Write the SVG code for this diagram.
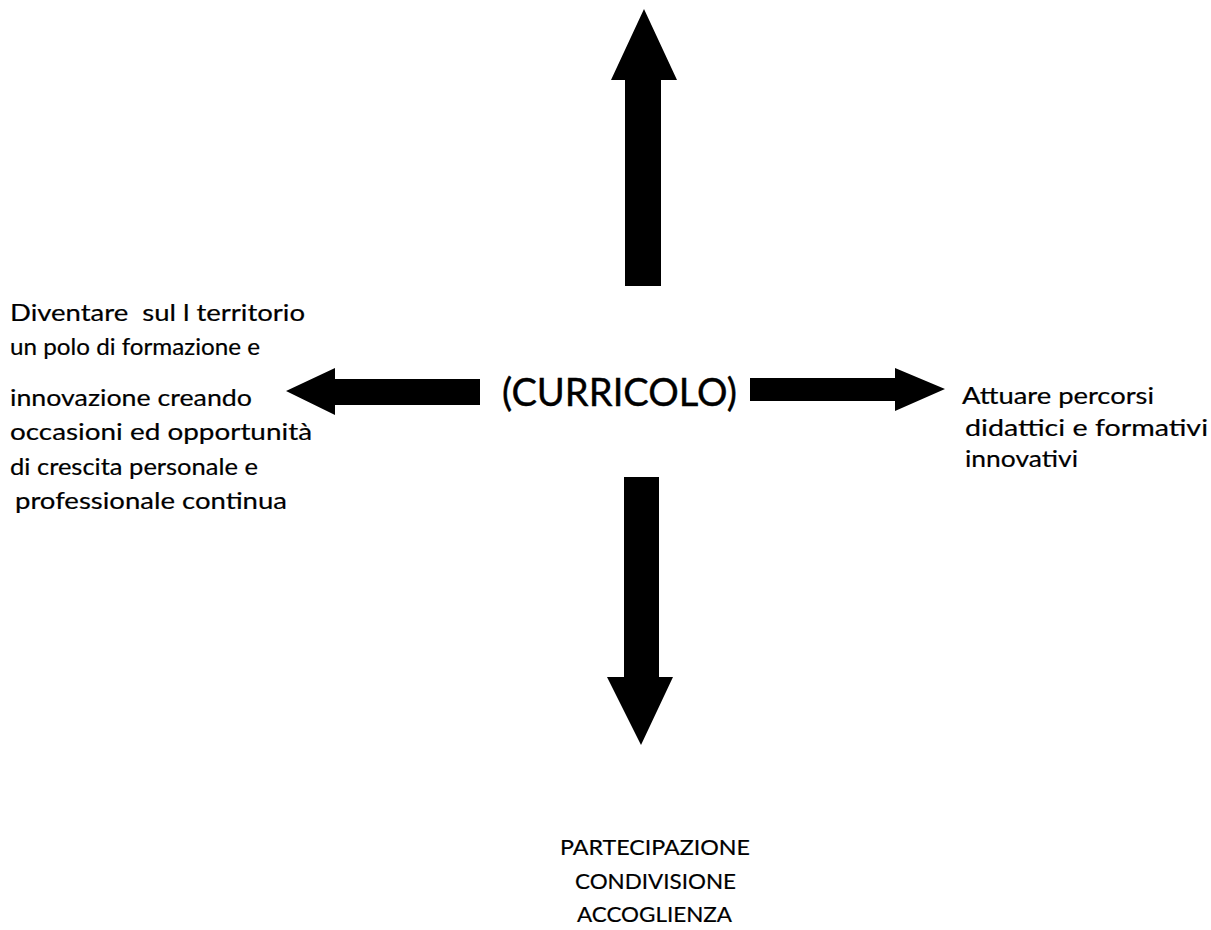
<svg xmlns="http://www.w3.org/2000/svg" width="1211" height="930" viewBox="0 0 1211 930">
<style>
.t{font-family:Lato,"Open Sans","Liberation Sans",sans-serif;fill:#000;stroke:#000;stroke-width:0.2;}
.s{font-size:23px;}
.c{font-size:38px;stroke-width:0.4;}
.b{font-size:22px;}
.arr{fill:#000;stroke:none;}
</style>
<rect width="1211" height="930" fill="#fff"/>
<g id="connectors">
<polygon class="arr" points="644,9 677,80 661,80 661,286 625,286 625,80 611,80"/>
<polygon class="arr" points="624,477 659,477 659,677 673,677 641,745 607,677 624,677"/>
<polygon class="arr" points="286,391 335,368 335,379 480,379 480,405 335,405 335,415"/>
<polygon class="arr" points="750,378 895,378 895,368 945,389 895,411 895,401 750,401"/>
</g>
<g id="center">
<text class="t c" x="502" y="406" textLength="235" lengthAdjust="spacingAndGlyphs">(CURRICOLO)</text>
</g>
<g id="left">
<text class="t s" x="10" y="321" textLength="295" lengthAdjust="spacingAndGlyphs" xml:space="preserve">Diventare  sul l territorio</text>
<text class="t s" x="10" y="355" textLength="250" lengthAdjust="spacingAndGlyphs">un polo di formazione e</text>
<text class="t s" x="10" y="406" textLength="242" lengthAdjust="spacingAndGlyphs">innovazione creando</text>
<text class="t s" x="10" y="440" textLength="302" lengthAdjust="spacingAndGlyphs">occasioni ed opportunità</text>
<text class="t s" x="10" y="475" textLength="248" lengthAdjust="spacingAndGlyphs">di crescita personale e</text>
<text class="t s" x="15" y="509" textLength="272" lengthAdjust="spacingAndGlyphs">professionale continua</text>
</g>
<g id="right">
<text class="t s" x="962" y="404" textLength="192" lengthAdjust="spacingAndGlyphs">Attuare percorsi</text>
<text class="t s" x="965" y="436" textLength="243" lengthAdjust="spacingAndGlyphs">didattici e formativi</text>
<text class="t s" x="965" y="467" textLength="113" lengthAdjust="spacingAndGlyphs">innovativi</text>
</g>
<g id="bottom">
<text class="t b" x="560" y="855" textLength="190" lengthAdjust="spacingAndGlyphs">PARTECIPAZIONE</text>
<text class="t b" x="575" y="889" textLength="161" lengthAdjust="spacingAndGlyphs">CONDIVISIONE</text>
<text class="t b" x="577" y="922" textLength="155" lengthAdjust="spacingAndGlyphs">ACCOGLIENZA</text>
</g>
</svg>
